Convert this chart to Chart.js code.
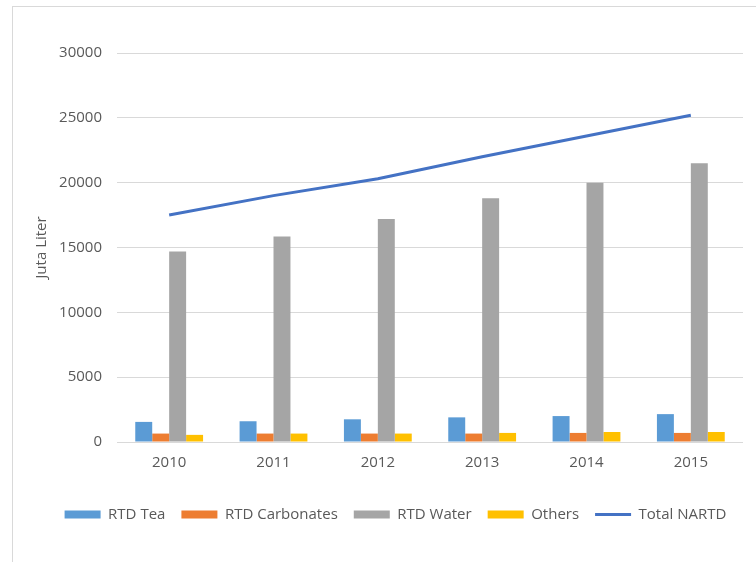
<!DOCTYPE html>
<html>
<head>
<meta charset="utf-8">
<script src="https://cdn.jsdelivr.net/npm/chart.js@4/dist/chart.umd.min.js"></script>
<style>
  html, body { margin: 0; padding: 0; background: #fff; overflow: hidden; }
  #frame { position: absolute; left: 12px; top: 6px; width: 800px; height: 600px; border: 1px solid #d9d9d9; box-sizing: border-box; }
  #wrap { position: absolute; left: 0; top: 0; width: 756px; height: 562px; }
</style>
</head>
<body>
<div id="frame"></div>
<div id="wrap"><canvas id="myChart" width="756" height="562"></canvas></div>
<script>
const years = ["2010", "2011", "2012", "2013", "2014", "2015"];
const rtdTea = [1550, 1600, 1750, 1900, 2000, 2150];
const rtdCarbonates = [650, 650, 650, 650, 700, 700];
const rtdWater = [14700, 15850, 17200, 18800, 20000, 21500];
const others = [550, 650, 650, 700, 770, 770];
const totalNartd = [17500, 19000, 20300, 22000, 23600, 25200];

Chart.defaults.font.family = "'Open Sans', sans-serif";
Chart.defaults.font.size = 15;
Chart.defaults.color = "#595959";

// nudge the legend a bit to the right, like the original
const legendShift = {
  id: "legendShift",
  afterLayout(chart) {
    chart.legend.left += 8;
    chart.legend.right += 8;
  },
};

const ctx = document.getElementById("myChart").getContext("2d");
new Chart(ctx, {
  type: "bar",
  data: {
    labels: years,
    datasets: [
      { label: "RTD Tea", data: rtdTea, backgroundColor: "#5b9bd5", pointStyle: "rect" },
      { label: "RTD Carbonates", data: rtdCarbonates, backgroundColor: "#ed7d31", pointStyle: "rect" },
      { label: "RTD Water", data: rtdWater, backgroundColor: "#a5a5a5", pointStyle: "rect" },
      { label: "Others", data: others, backgroundColor: "#ffc000", pointStyle: "rect" },
      {
        type: "line",
        label: "Total NARTD",
        data: totalNartd,
        borderColor: "#4472c4",
        backgroundColor: "#4472c4",
        borderWidth: 3,
        pointRadius: 0,
        pointStyle: "line",
        tension: 0,
      },
    ],
  },
  options: {
    responsive: false,
    animation: false,
    datasets: {
      bar: { categoryPercentage: 0.65, barPercentage: 1.0 },
    },
    layout: {
      padding: { left: 32, right: 13, top: 53, bottom: 30 },
    },
    scales: {
      x: {
        grid: { display: false, drawTicks: false },
        border: { display: false },
        ticks: { padding: 12 },
        afterFit: scale => { scale.height += 7; },
      },
      y: {
        min: 0,
        max: 30000,
        ticks: { stepSize: 5000, padding: 15, callback: v => String(v) },
        grid: { color: "#d9d9d9", drawTicks: false },
        border: { display: false },
        title: { display: true, text: "Juta Liter", padding: { top: 1, bottom: 0 } },
        afterFit: scale => { scale.width = 85; },
      },
    },
    plugins: {
      legend: {
        position: "bottom",
        labels: {
          usePointStyle: true,
          pointStyleWidth: 36,
          boxHeight: 8,
          padding: 16,
        },
      },
      tooltip: { enabled: false },
    },
  },
  plugins: [legendShift],
});
</script>
</body>
</html>
